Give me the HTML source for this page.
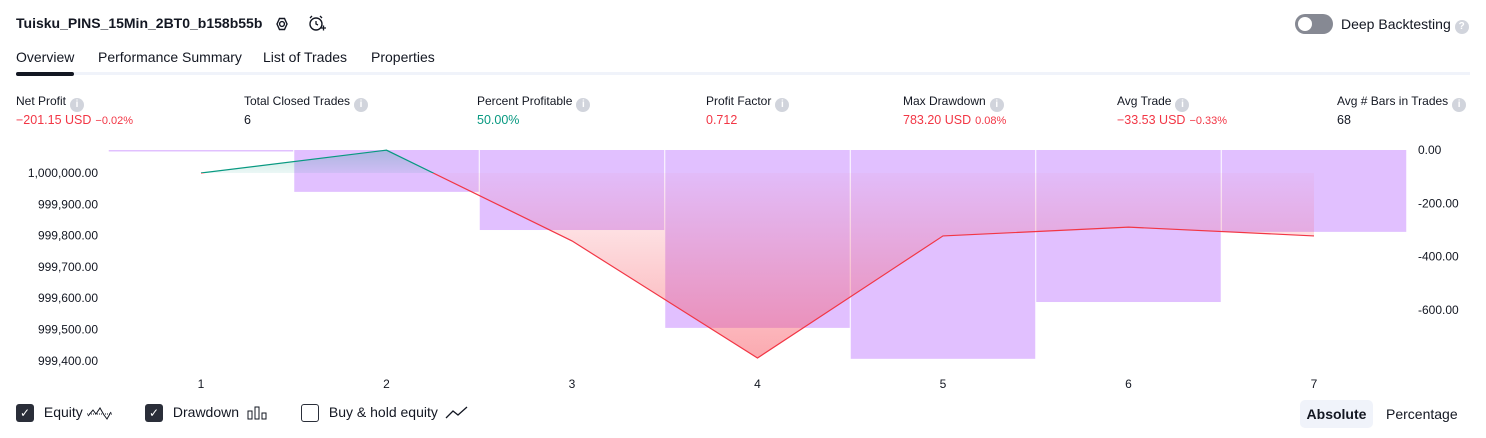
<!DOCTYPE html>
<html><head><meta charset="utf-8">
<style>
*{box-sizing:border-box;margin:0;padding:0}
body{width:1486px;height:438px;background:#fff;font-family:"Liberation Sans",sans-serif;color:#131722;position:relative;overflow:hidden}
.abs{position:absolute}
.title{left:16px;top:15px;font-size:14px;font-weight:bold}
.tab{top:49px;font-size:14px;color:#131722}
.metric{top:94px;font-size:12px}
.metric .lbl{font-weight:normal;color:#131722}
.metric .val{margin-top:1px;font-size:12.5px}
.info{display:inline-block;width:14px;height:14px;border-radius:50%;background:#d1d4dc;color:#fff;font-size:10px;text-align:center;line-height:14px;font-weight:bold;vertical-align:-2px;margin-left:4px}
.red{color:#f23645}.green{color:#089981}
.small{font-size:11px;margin-left:4px}
.cb{width:18px;height:18px;border-radius:3px;display:inline-block;vertical-align:middle}
.leg{top:404px;font-size:14px}
</style></head><body>
<div class="abs title">Tuisku_PINS_15Min_2BT0_b158b55b</div>
<svg class="abs" style="left:272px;top:14px" width="20" height="20"><polygon points="5,10 7.5,4.5 12.5,4.5 15,10 12.5,15.5 7.5,15.5" fill="none" stroke="#131722" stroke-width="1.4"/><circle cx="10" cy="10" r="2.4" fill="none" stroke="#131722" stroke-width="1.4"/></svg>
<svg class="abs" style="left:306px;top:13px" width="22" height="22"><circle cx="10" cy="11" r="6" fill="none" stroke="#131722" stroke-width="1.4"/><path d="M10 8v3l2 1M4 5l2-2M16 5l-2-2M15 15h5M17.5 12.5v5" stroke="#131722" stroke-width="1.3" fill="none"/></svg>
<div class="abs" style="left:1295px;top:14px;width:38px;height:20px;border-radius:10px;background:#868993"><div style="position:absolute;left:3px;top:3px;width:14px;height:14px;border-radius:50%;background:#fff"></div></div>
<div class="abs" style="left:1341px;top:16px;font-size:14px">Deep Backtesting<span class="info" style="vertical-align:0">?</span></div>

<div class="abs tab" style="left:16px">Overview</div>
<div class="abs tab" style="left:98px">Performance Summary</div>
<div class="abs tab" style="left:263px">List of Trades</div>
<div class="abs tab" style="left:371px">Properties</div>
<div class="abs" style="left:16px;top:72px;width:1454px;height:3px;background:#f0f3fa"></div>
<div class="abs" style="left:16px;top:72px;width:58px;height:4px;border-radius:2px;background:#131722"></div>

<div class="abs metric" style="left:16px"><div class="lbl">Net Profit<span class="info">i</span></div><div class="val red">−201.15 USD<span class="small">−0.02%</span></div></div>
<div class="abs metric" style="left:244px"><div class="lbl">Total Closed Trades<span class="info">i</span></div><div class="val">6</div></div>
<div class="abs metric" style="left:477px"><div class="lbl">Percent Profitable<span class="info">i</span></div><div class="val green">50.00%</div></div>
<div class="abs metric" style="left:706px"><div class="lbl">Profit Factor<span class="info">i</span></div><div class="val red">0.712</div></div>
<div class="abs metric" style="left:903px"><div class="lbl">Max Drawdown<span class="info">i</span></div><div class="val red">783.20 USD<span class="small">0.08%</span></div></div>
<div class="abs metric" style="left:1117px"><div class="lbl">Avg Trade<span class="info">i</span></div><div class="val red">−33.53 USD<span class="small">−0.33%</span></div></div>
<div class="abs metric" style="left:1337px"><div class="lbl">Avg # Bars in Trades<span class="info">i</span></div><div class="val">68</div></div>

<svg id="chart" class="abs" style="left:0;top:0" width="1486" height="400"></svg>

<div class="abs leg" style="left:16px"><span class="cb" style="background:#2a2e39;color:#fff;text-align:center;line-height:18px;font-size:12px">✓</span> <span style="margin-left:6px">Equity</span>
<svg width="26" height="14" style="vertical-align:middle"><path d="M1 10 L6 4 L9 8 L13 2 L17 9 L20 13 L24 6" fill="none" stroke="#131722" stroke-width="1"/><line x1="0" y1="8" x2="26" y2="8" stroke="#131722" stroke-dasharray="1,1"/></svg></div>
<div class="abs leg" style="left:145px"><span class="cb" style="background:#2a2e39;color:#fff;text-align:center;line-height:18px;font-size:12px">✓</span> <span style="margin-left:6px">Drawdown</span>
<svg width="22" height="14" style="vertical-align:middle;margin-left:4px"><rect x="1" y="5" width="4" height="8" fill="none" stroke="#131722"/><rect x="8" y="1" width="4" height="12" fill="none" stroke="#131722"/><rect x="15" y="7" width="4" height="6" fill="none" stroke="#131722"/></svg></div>
<div class="abs leg" style="left:301px"><span class="cb" style="border:1.5px solid #2a2e39;background:#fff"></span> <span style="margin-left:6px">Buy &amp; hold equity</span>
<svg width="24" height="14" style="vertical-align:middle;margin-left:3px"><path d="M1 12 L8 5 L13 9 L22 1" fill="none" stroke="#131722" stroke-width="1.3"/></svg></div>
<div class="abs" style="left:1300px;top:400px;width:73px;height:28px;border-radius:5px;background:#f0f3fa;font-size:14px;font-weight:bold;text-align:center;line-height:28px">Absolute</div>
<div class="abs" style="left:1386px;top:406px;font-size:14px">Percentage</div>

<script>
const trades=[1,2,3,4,5,6,7];
const equity=[1000000,1000073,999783,999409,999799,999827,999799];
const drawdown=[0,-157,-300,-667,-783,-570,-307];
const leftTicks=[1000000,999900,999800,999700,999600,999500,999400];
const rightTicks=[0,-200,-400,-600];
const ns="http://www.w3.org/2000/svg";
const svg=document.getElementById('chart');
const X0=201,DX=185.5;
const xs=i=>X0+i*DX;
const yEq=v=>173+(1000000-v)*0.313;
const yDD=v=>150-v*0.2667;
function mk(t,a){const e=document.createElementNS(ns,t);for(const k in a)e.setAttribute(k,a[k]);svg.appendChild(e);return e;}
const defs=mk('defs',{});
defs.innerHTML='<linearGradient id="gr" gradientUnits="userSpaceOnUse" x1="0" y1="173" x2="0" y2="360"><stop offset="0" stop-color="#f7525f" stop-opacity="0.04"/><stop offset="1" stop-color="#f7525f" stop-opacity="0.5"/></linearGradient><linearGradient id="gg" gradientUnits="userSpaceOnUse" x1="0" y1="150" x2="0" y2="173"><stop offset="0" stop-color="#089981" stop-opacity="0.25"/><stop offset="1" stop-color="#089981" stop-opacity="0.08"/></linearGradient>';
drawdown.forEach((d,i)=>{
  const y0=yDD(0),y1=yDD(d);
  const r=mk('rect',{x:xs(i)-DX/2+0.5,y:y0,width:DX-1,height:Math.max(y1-y0,1.5),fill:'#d4a5ff','fill-opacity':0.7});
  
  
});
const base=yEq(1000000);
let pts=equity.map((v,i)=>xs(i)+','+yEq(v)).join(' ');
const clipAbove=mk('clipPath',{id:'ca'});clipAbove.innerHTML='<rect x="0" y="0" width="1486" height="'+base+'"/>';
const clipBelow=mk('clipPath',{id:'cb'});clipBelow.innerHTML='<rect x="0" y="'+base+'" width="1486" height="300"/>';
const area='M'+xs(0)+','+base+' L'+pts.split(' ').join(' L')+' L'+xs(equity.length-1)+','+base+' Z';
const a1=mk('path',{d:area,fill:'url(#gg)','clip-path':'url(#ca)'});


const a2=mk('path',{d:area,fill:'url(#gr)','clip-path':'url(#cb)'});


const l1=mk('polyline',{points:pts,fill:'none',stroke:'#089981','stroke-width':1.2,'clip-path':'url(#ca)'});


const l2=mk('polyline',{points:pts,fill:'none',stroke:'#f23645','stroke-width':1.2,'clip-path':'url(#cb)'});


leftTicks.forEach(v=>{
  const t=mk('text',{x:98,y:yEq(v)+4,'text-anchor':'end','font-size':12,fill:'#131722','font-family':'Liberation Sans, sans-serif'});
  t.textContent=v.toLocaleString('en-US',{minimumFractionDigits:2});
  
  
});
rightTicks.forEach(v=>{
  const t=mk('text',{x:1418,y:yDD(v)+4,'font-size':12,fill:'#131722','font-family':'Liberation Sans, sans-serif'});
  t.textContent=v.toFixed(2);
  
  
});
trades.forEach((n,i)=>{
  const t=mk('text',{x:xs(i),y:388,'text-anchor':'middle','font-size':12,fill:'#131722','font-family':'Liberation Sans, sans-serif'});
  t.textContent=n;
  
  
});
</script>
</body></html>
